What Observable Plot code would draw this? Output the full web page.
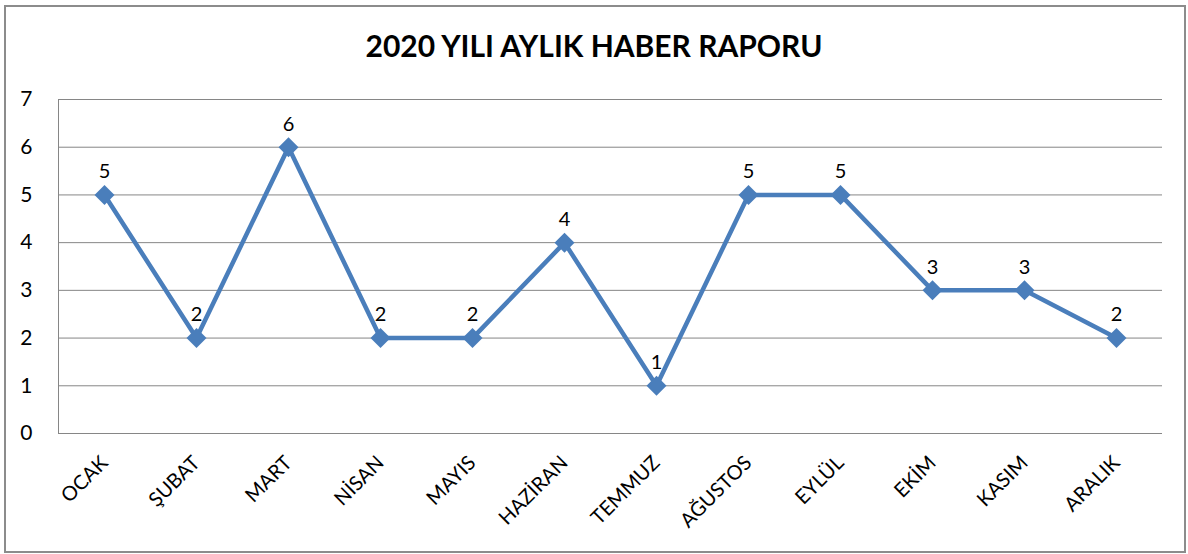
<!DOCTYPE html>
<html><head><meta charset="utf-8">
<script src="https://cdn.jsdelivr.net/npm/d3@7"></script>
<script src="https://cdn.jsdelivr.net/npm/@observablehq/plot@0.6"></script>
<style>
html,body{margin:0;padding:0;background:#fff;}
#box{position:absolute;left:4px;top:5px;width:1178px;height:544px;border:2px solid #8c8c8c;box-sizing:content-box;}
#title{position:absolute;left:0;top:27px;width:1188px;text-align:center;font:bold 30px Lato, sans-serif;color:#000;line-height:36px;}
#chart{position:absolute;left:0;top:80px;}
</style></head>
<body>
<div id="box"></div>
<div id="title">2020 YILI AYLIK HABER RAPORU</div>
<div id="chart"></div>
<script>
const months = ["OCAK","ŞUBAT","MART","NİSAN","MAYIS","HAZİRAN","TEMMUZ","AĞUSTOS","EYLÜL","EKİM","KASIM","ARALIK"];
const values = [5,2,6,2,2,4,1,5,5,3,3,2];
const yTicks = [0,1,2,3,4,5,6,7];
const data = months.map((m,i)=>({month:m, value:values[i]}));
const blue = "#4a7ebb";
const chart = Plot.plot({
  width: 1188,
  height: 470,
  marginTop: 19,
  marginBottom: 117,
  marginLeft: 58,
  marginRight: 26,
  style: {fontFamily: "Lato, sans-serif", background: "transparent"},
  x: {type: "band", domain: months, padding: 0, label: null},
  y: {domain: [0,7], label: null},
  marks: [
    Plot.gridY(yTicks, {stroke: "#868686", strokeOpacity: 1}),
    Plot.frame({anchor: "left", stroke: "#868686"}),
    Plot.axisY(yTicks, {tickSize: 0, tickPadding: 26, fontSize: 21, label: null, textAnchor: "end"}),
    Plot.axisX({tickSize: 0, tickPadding: 26, tickRotate: -45, fontSize: 20, label: null}),
    Plot.line(data, {x: "month", y: "value", stroke: blue, strokeWidth: 4.5}),
    Plot.dot(data, {x: "month", y: "value", symbol: "diamond2", r: 9, fill: blue}),
    Plot.text(data, {x: "month", y: "value", text: d => String(d.value), dy: -23, fontSize: 20, fill: "#000"})
  ]
});
document.getElementById("chart").appendChild(chart);
</script>
</body></html>
